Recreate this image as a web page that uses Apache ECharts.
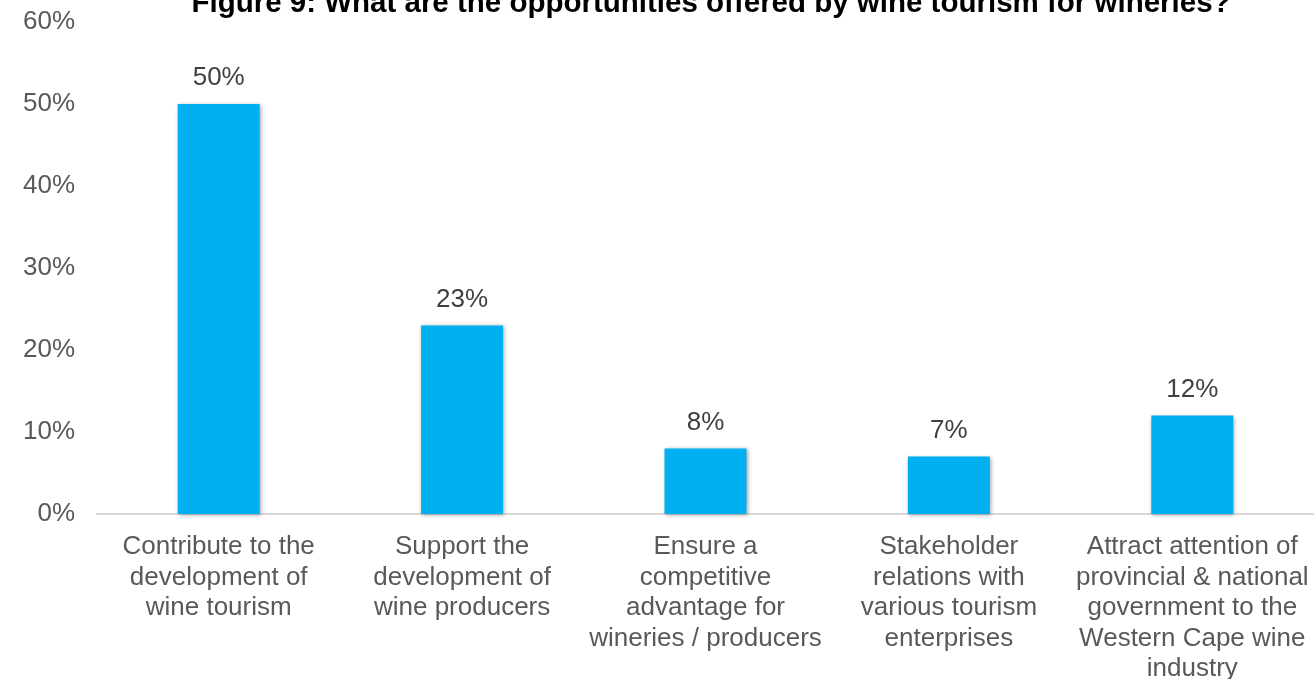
<!DOCTYPE html>
<html><head><meta charset="utf-8">
<script src="https://cdn.jsdelivr.net/npm/echarts@6/dist/echarts.min.js"></script>
<style>html,body{margin:0;padding:0;background:#fff;overflow:hidden}#c{width:1314px;height:679px}</style>
</head><body><div id="c"></div>
<script>
const categories = [
  "Contribute to the\ndevelopment of\nwine tourism",
  "Support the\ndevelopment of\nwine producers",
  "Ensure a\ncompetitive\nadvantage for\nwineries / producers",
  "Stakeholder\nrelations with\nvarious tourism\nenterprises",
  "Attract attention of\nprovincial & national\ngovernment to the\nWestern Cape wine\nindustry"
];
const values = [50, 23, 8, 7, 12];
const titleText = "Figure 9: What are the opportunities offered by wine tourism for wineries?";

const chart = echarts.init(document.getElementById('c'));
chart.setOption({
  animation: false,
  title: {
    text: titleText, left: 706, top: -16, textAlign: 'center',
    textStyle: {fontFamily: 'Liberation Sans, Arial', fontWeight: 'bold', fontSize: 29.5, color: '#000'}
  },
  grid: {left: 97, right: 0, top: 22, bottom: 165, containLabel: false, outerBoundsMode: 'none'},
  xAxis: {
    type: 'category', data: categories,
    axisLine: {lineStyle: {color: '#d9d9d9', width: 2}},
    axisTick: {show: false},
    axisLabel: {interval: 0, margin: 18, fontFamily: 'Liberation Sans, Arial', fontSize: 26, color: '#595959', lineHeight: 30.5}
  },
  yAxis: {
    type: 'value', min: 0, max: 60, interval: 10,
    splitLine: {show: false},
    axisLine: {show: false}, axisTick: {show: false},
    axisLabel: {formatter: '{value}%', margin: 22, fontFamily: 'Liberation Sans, Arial', fontSize: 26, color: '#595959'}
  },
  series: [{
    type: 'bar', data: values, barWidth: 82,
    itemStyle: {color: '#00b0f0', shadowColor: 'rgba(0,0,0,0.35)', shadowBlur: 4, shadowOffsetX: 1, shadowOffsetY: 1},
    label: {show: true, position: 'top', distance: 13, formatter: '{c}%', fontFamily: 'Liberation Sans, Arial', fontSize: 26, color: '#404040'}
  }]
});
</script></body></html>
